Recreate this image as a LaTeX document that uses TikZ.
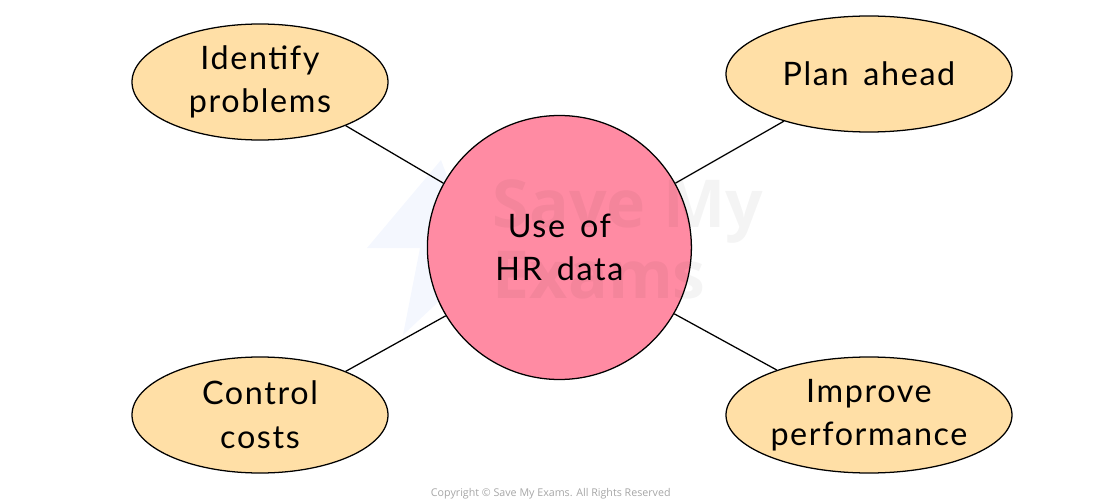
\documentclass[tikz,border=0pt]{standalone}
\usepackage{fontspec}
\setmainfont[LetterSpace=5,WordSpace=1.5]{Lato}
\newfontfamily\markfont{Open Sans}
\usetikzlibrary{shapes.geometric}
\definecolor{bubblefill}{HTML}{FFDFA6}
\definecolor{hubfill}{HTML}{FF8BA3}
\definecolor{logoblue}{HTML}{F4F7FE}
\tikzset{
  bubble/.style={ellipse, draw, line width=0.9pt, fill=bubblefill, inner sep=0pt, align=center, minimum height=2.9cm, font=\fontsize{23}{31}\selectfont},
  hub/.style={circle, draw, line width=0.9pt, fill=hubfill, inner sep=0pt, align=center, minimum size=6.6cm, font=\fontsize{23}{31}\selectfont},
  link/.style={line width=0.9pt},
  watermark/.style={black, opacity=0.045, align=left, font=\markfont\bfseries\fontsize{47}{50}\selectfont}
}
\begin{document}
\begin{tikzpicture}
    \useasboundingbox (0,0) rectangle (27.525,12.575);

    % logo behind the hub
    \fill[logoblue] (9.175,6.375) -- (11.025,8.575) -- (12,6) -- (10.075,4.2) -- (10.5,6.375) -- cycle;

    % nodes
    \node[hub] (hrdata) at (13.985,6.3875) {Use of\\HR data};
    \node[bubble, minimum width=6.4cm] (identify) at (6.5,10.525) {Identify\\problems};
    \node[bubble, minimum width=7.15cm] (plan) at (21.725,10.725) {Plan ahead};
    \node[bubble, minimum width=6.4cm] (costs) at (6.5,2.2) {Control\\costs};
    \node[bubble, minimum width=7.15cm] (improve) at (21.725,2.2) {Improve\\performance};

    % lines
    \draw[link] (hrdata.151) -- (identify.-27);
    \draw[link] (hrdata.29) -- (plan.209);
    \draw[link] (hrdata.211) -- (costs.27);
    \draw[link] (hrdata.-30) -- (improve.154);

    % watermark and footer
    \node[watermark, anchor=north west] (savemy) at (12.2,8.2) {Save My\\Exams};
    \node[text=black!35, font=\markfont\fontsize{7.6}{10}\selectfont] (copyright) at (13.77,0.24) {Copyright © Save My Exams. All Rights Reserved};
\end{tikzpicture}
\end{document}
